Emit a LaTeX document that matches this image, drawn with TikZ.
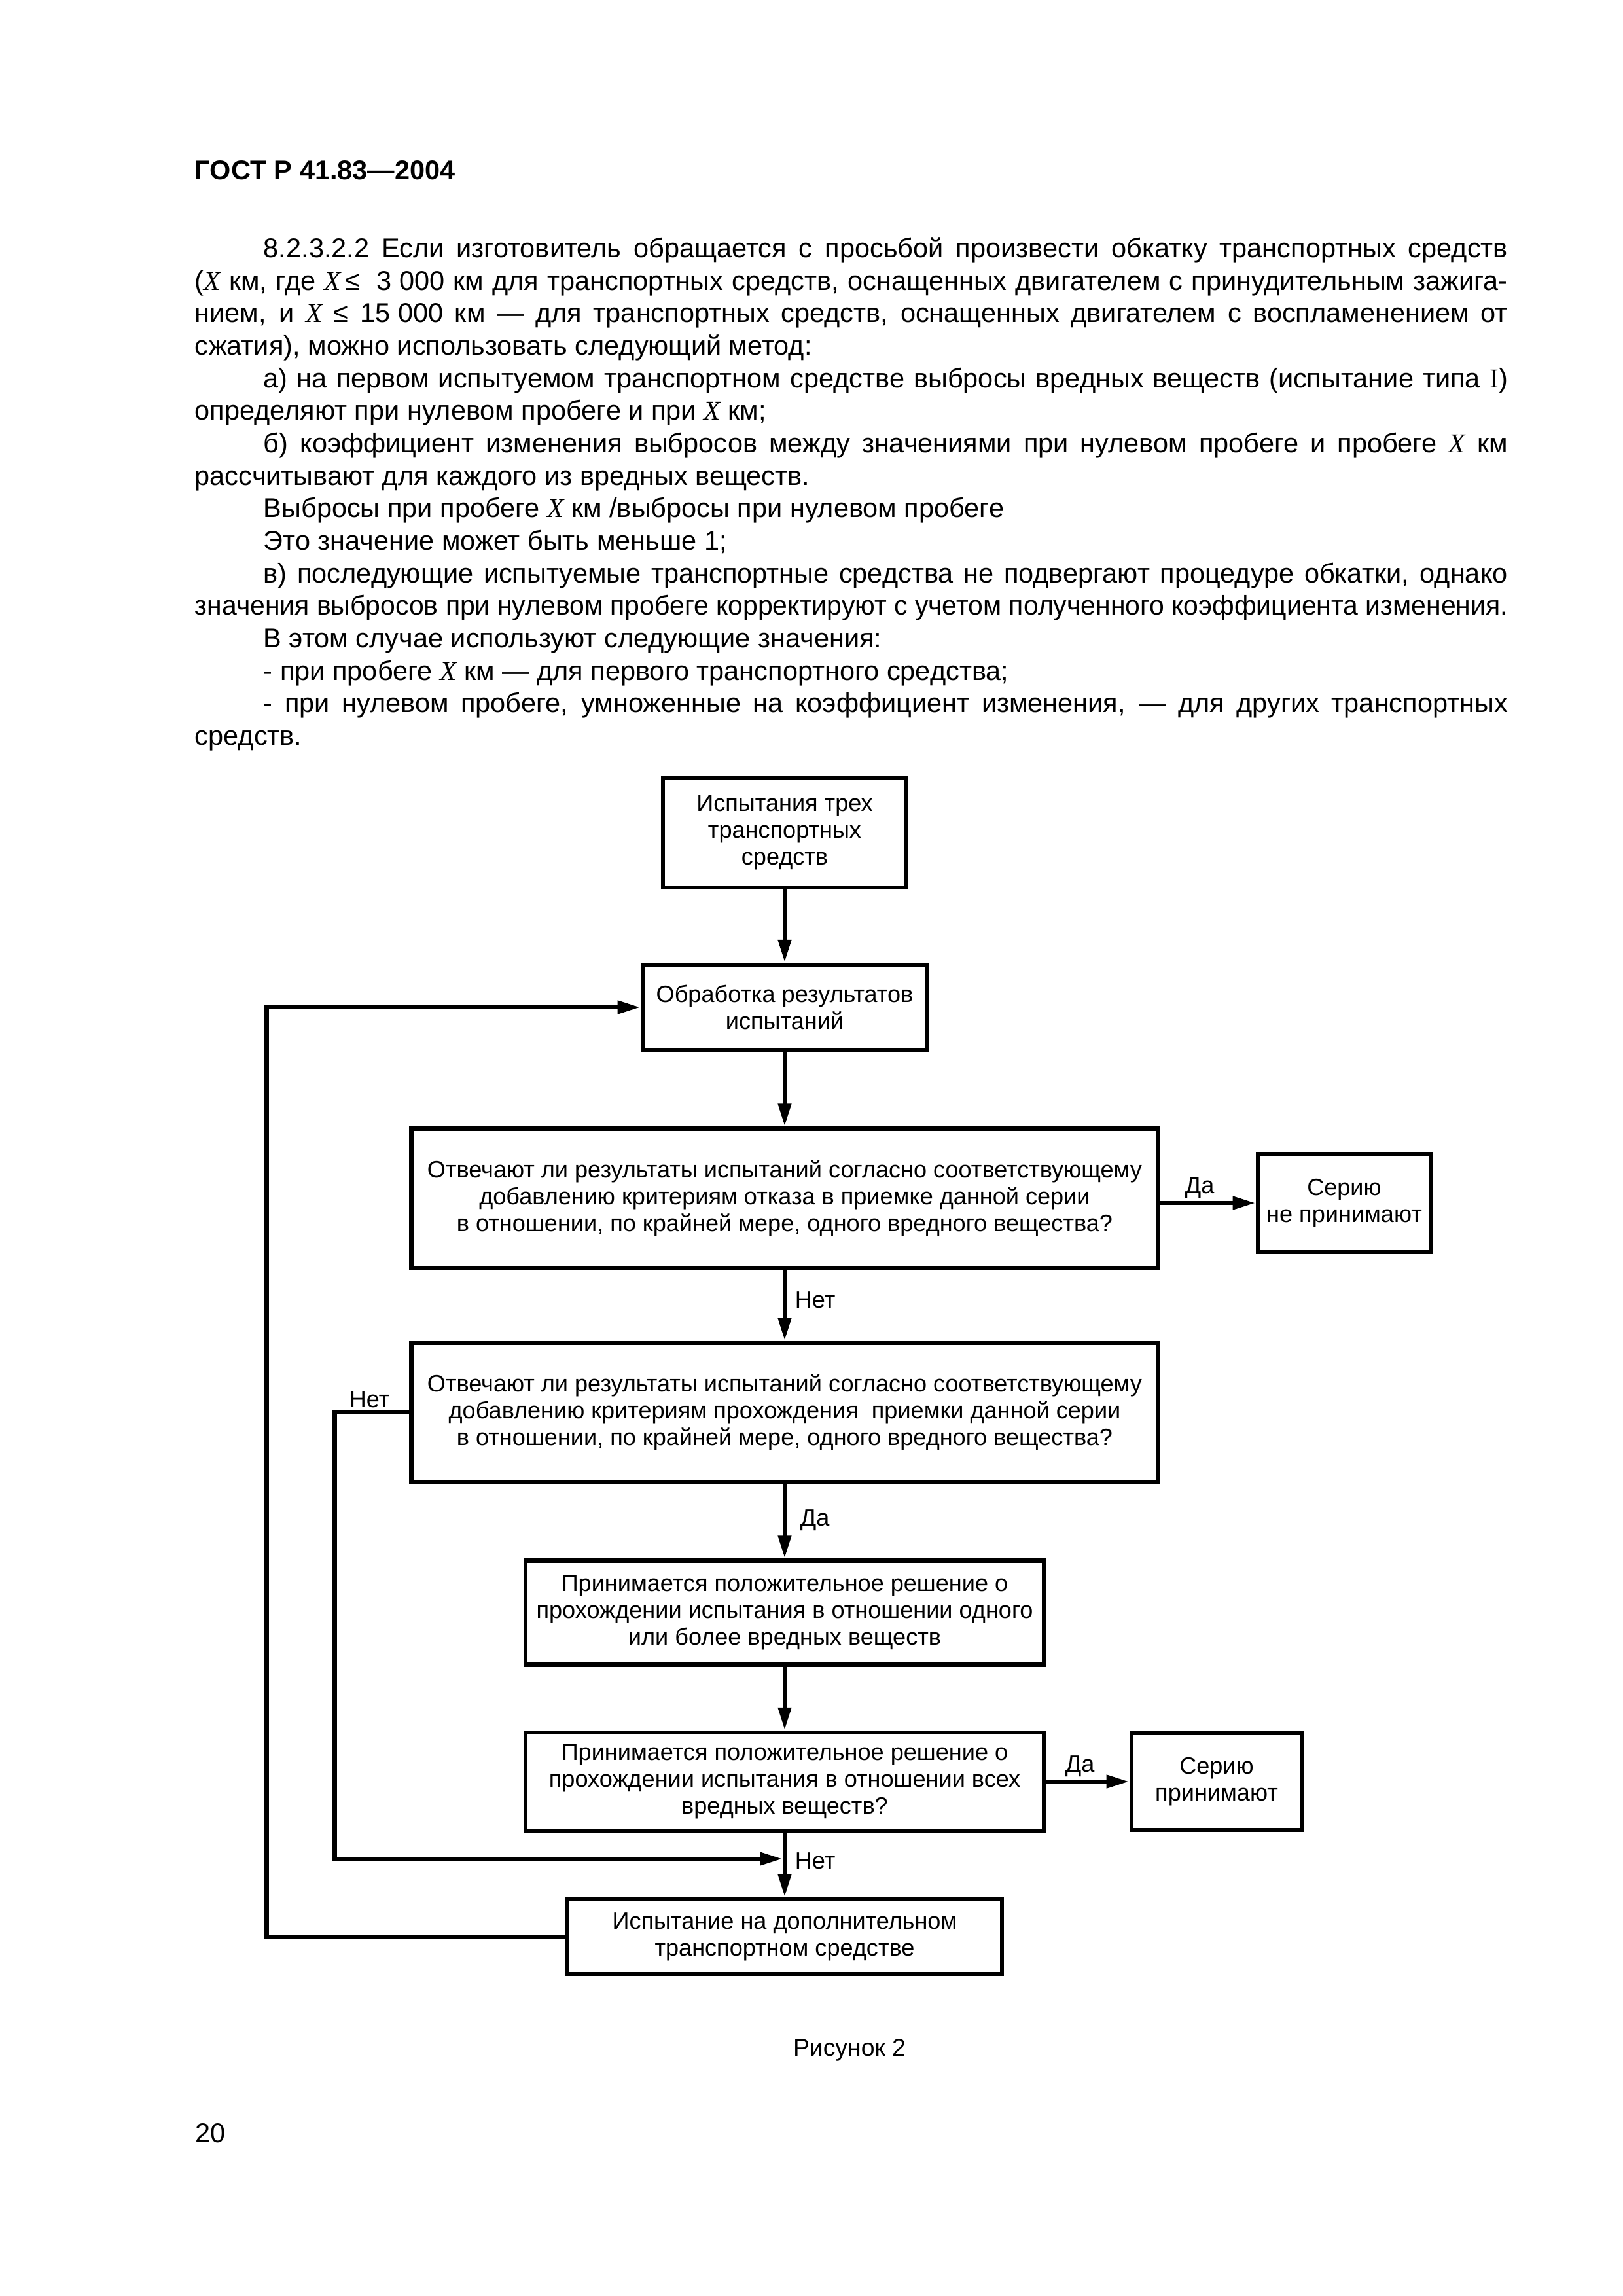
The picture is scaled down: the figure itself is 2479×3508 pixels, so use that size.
\documentclass[tikz,border=0pt]{standalone}
\usepackage{fontspec}
\setmainfont{Liberation Sans}
\newfontfamily\tnr{Liberation Serif}
\usetikzlibrary{arrows.meta}
\newlength\pxu \setlength\pxu{0.084711mm}
\newcommand\X{{\tnr\itshape X}}
\newcommand\ts{\kern0.28em}
\newsavebox\jlbox \newlength\jlw
\newcommand\jl[2]{\setlength\jlw{#1}\sbox\jlbox{#2}%
 \ifdim\wd\jlbox>\jlw \pgfmathparse{\the\jlw/\the\wd\jlbox}\scalebox{\pgfmathresult}[1]{\usebox\jlbox}%
 \else\hbox to \jlw{#2}\fi}
\hbadness=10000 \hfuzz=200pt
\newcommand\fs{\fontsize{8.7pt}{9.84pt}\selectfont}
\begin{document}
\begin{tikzpicture}[x=\pxu, y={(0,-\pxu)},
  txt/.style={anchor=base west, inner sep=0pt, font=\fontsize{10pt}{12pt}\selectfont},
  box/.style={draw, line width=1.65pt, inner sep=0pt, align=center, font=\fs},
  sz/.style 2 args={minimum width=#1\pxu, minimum height=#2\pxu},
  arr/.style={line width=1.65pt, -{Triangle[length=8.4pt,width=4.6pt]}},
  lbl/.style={anchor=base west, inner sep=0pt, font=\fs}]
\useasboundingbox (0,0) rectangle (2479,3508);

\node[txt, font=\bfseries\fontsize{10pt}{12pt}\selectfont] (hdr) at (297,274) {ГОСТ Р 41.83—2004};

\node[txt] (p1) at (402,393) {\jl{1901\pxu}{8.2.3.2.2 Если изготовитель обращается с просьбой произвести обкатку транспортных средств}};
\node[txt] (p2) at (297,443) {\jl{2006\pxu}{(\X{} км, где \X\,≤ \ts3\ts000 км для транспортных средств, оснащенных двигателем с принудительным зажига-}};
\node[txt] (p3) at (297,492) {\jl{2006\pxu}{нием, и \X{} ≤ 15\ts000 км — для транспортных средств, оснащенных двигателем с воспламенением от}};
\node[txt] (p4) at (297,542) {сжатия), можно использовать следующий метод:};
\node[txt] (p5) at (402,592) {\jl{1901\pxu}{а) на первом испытуемом транспортном средстве выбросы вредных веществ (испытание типа {\tnr I})}};
\node[txt] (p6) at (297,641) {определяют при нулевом пробеге и при \X{} км;};
\node[txt] (p7) at (402,691) {\jl{1901\pxu}{б) коэффициент изменения выбросов между значениями при нулевом пробеге и пробеге \X{} км}};
\node[txt] (p8) at (297,741) {рассчитывают для каждого из вредных веществ.};
\node[txt] (p9) at (402,790) {Выбросы при пробеге \X{} км /выбросы при нулевом пробеге};
\node[txt] (p10) at (402,840) {Это значение может быть меньше 1;};
\node[txt] (p11) at (402,890) {\jl{1901\pxu}{в) последующие испытуемые транспортные средства не подвергают процедуре обкатки, однако}};
\node[txt] (p12) at (297,939) {\jl{2006\pxu}{значения выбросов при нулевом пробеге корректируют с учетом полученного коэффициента изменения.}};
\node[txt] (p13) at (402,989) {В этом случае используют следующие значения:};
\node[txt] (p14) at (402,1039) {- при пробеге \X{} км — для первого транспортного средства;};
\node[txt] (p15) at (402,1088) {\jl{1901\pxu}{- при нулевом пробеге, умноженные на коэффициент изменения, — для других транспортных}};
\node[txt] (p16) at (297,1138) {средств.};

% boxes
\node[box, sz={372}{168}] (b1) at (1199,1272) {Испытания трех\\транспортных\\средств};
\node[box, sz={434}{130}] (b2) at (1199,1539) {Обработка результатов\\испытаний};
\node[box, sz={1141}{213}] (d1) at (1199,1831) {Отвечают ли результаты испытаний согласно соответствующему\\добавлению критериям отказа в приемке данной серии\\в отношении, по крайней мере, одного вредного вещества?};
\node[box, sz={264}{150}] (rej) at (2054,1838) {Серию\\не принимают};
\node[box, sz={1141}{212}] (d2) at (1199,2158) {Отвечают ли результаты испытаний согласно соответствующему\\добавлению критериям прохождения \ приемки данной серии\\в отношении, по крайней мере, одного вредного вещества?};
\node[box, sz={792}{159}] (b5) at (1199,2464) {Принимается положительное решение о\\прохождении испытания в отношении одного\\или более вредных веществ};
\node[box, sz={792}{150}] (b6) at (1199,2722) {Принимается положительное решение о\\прохождении испытания в отношении всех\\вредных веществ?};
\node[box, sz={260}{148}] (acc) at (1859,2722) {Серию\\принимают};
\node[box, sz={664}{114}] (b7) at (1199,2959) {Испытание на дополнительном\\транспортном средстве};

\coordinate (j) at (1196,2840);

% connectors
\draw[arr] (b1) -- (b2);
\draw[arr] (b2) -- (d1);
\draw[arr] (d1.east |- rej.west) -- (rej.west);
\draw[arr] (d1) -- (d2);
\draw[arr] (d2) -- (b5);
\draw[arr] (b5) -- (b6);
\draw[arr] (b6) -- (acc);
\draw[arr] (b6) -- (b7);
\draw[arr] (d2.west) -- ++(-114,0) |- (j);
\draw[arr] (b7.west) -- ++(-456,0) |- (b2.west);

% labels
\node[lbl] (l1) at (1810,1823) {Да};
\node[lbl] (l2) at (1214,1998) {Нет};
\node[lbl] (l3) at (533,2150) {Нет};
\node[lbl] (l4) at (1222,2331) {Да};
\node[lbl] (l5) at (1627,2707) {Да};
\node[lbl] (l6) at (1214,2855) {Нет};

\node[anchor=base, inner sep=0pt, font=\fontsize{9pt}{11pt}\selectfont] (fig) at (1298,3141) {Рисунок 2};
\node[txt] (pg) at (298,3273) {20};
\end{tikzpicture}
\end{document}
